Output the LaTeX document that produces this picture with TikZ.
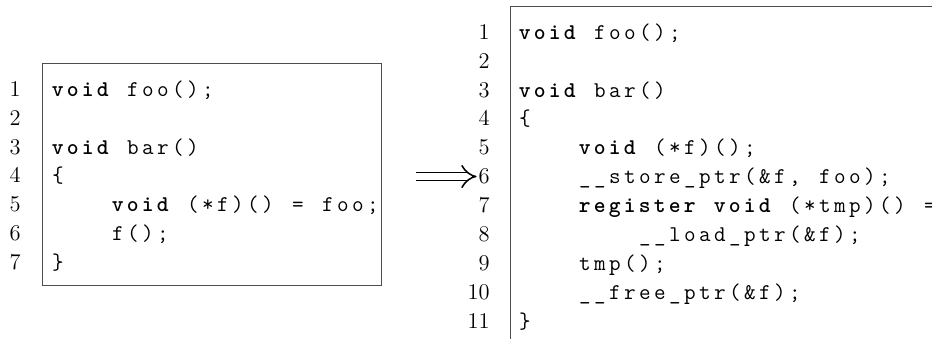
\documentclass[tikz,border=0pt]{standalone}
\usetikzlibrary{arrows.meta}
\makeatletter
\newlength\cellw
\setlength\cellw{9pt}
% one fixed cell per character, like a listing with fixed columns
\newcommand\cl[1]{\@tfor\cchar:=#1\do{\makebox[\cellw][c]{\cchar}}}
\newcommand\ck[1]{{\bfseries\cl{#1}}}
\makeatother
\tikzstyle{lineno} = [anchor=base east, inner sep=0pt, font={\fontsize{13.5}{16}\selectfont\rmfamily}]
\tikzstyle{codeln} = [anchor=base west, inner sep=0pt, font={\fontsize{13.5}{16}\selectfont\ttfamily}]
\tikzstyle{listbox} = [draw=black!70, line width=0.6pt]
\tikzstyle{arrow} = [double, double distance=4pt, line width=0.9pt, -{Implies}, shorten >=1pt]

\begin{document}
\begin{tikzpicture}[x=0.6pt, y=-0.6pt]
            \clip (0,0) rectangle (932,339);
            % original code
            \draw [listbox] (42,64) rectangle (381,286);
            \node [lineno] at (21,96.25) (ln1) {1};
            \node [lineno] at (21,125.15) (ln2) {2};
            \node [lineno] at (21,154.05) (ln3) {3};
            \node [lineno] at (21,182.95) (ln4) {4};
            \node [lineno] at (21,211.85) (ln5) {5};
            \node [lineno] at (21,240.75) (ln6) {6};
            \node [lineno] at (21,269.65) (ln7) {7};
            \node [codeln] at (50,96.25) (lc1) {\ck{void}\cl{~foo();}};
            \node [codeln] at (50,154.05) (lc3) {\ck{void}\cl{~bar()}};
            \node [codeln] at (50,182.95) (lc4) {\cl{\{}};
            \node [codeln] at (50,211.85) (lc5) {\cl{~~~~}\ck{void}\cl{~(*f)()~=~foo;}};
            \node [codeln] at (50,240.75) (lc6) {\cl{~~~~f();}};
            \node [codeln] at (50,269.65) (lc7) {\cl{\}}};
            % transformed code
            \draw [listbox] (960,7) -- (510,7) -- (510,360);
            \node [lineno] at (490,39.25) (rn1) {1};
            \node [lineno] at (490,68.15) (rn2) {2};
            \node [lineno] at (490,97.05) (rn3) {3};
            \node [lineno] at (490,125.95) (rn4) {4};
            \node [lineno] at (490,154.85) (rn5) {5};
            \node [lineno] at (490,183.75) (rn6) {6};
            \node [lineno] at (490,212.65) (rn7) {7};
            \node [lineno] at (490,241.55) (rn8) {8};
            \node [lineno] at (490,270.45) (rn9) {9};
            \node [lineno] at (490,299.35) (rn10) {10};
            \node [lineno] at (490,328.25) (rn11) {11};
            \node [codeln] at (517,39.25) (rc1) {\ck{void}\cl{~foo();}};
            \node [codeln] at (517,97.05) (rc3) {\ck{void}\cl{~bar()}};
            \node [codeln] at (517,125.95) (rc4) {\cl{\{}};
            \node [codeln] at (517,154.85) (rc5) {\cl{~~~~}\ck{void}\cl{~(*f)();}};
            \node [codeln] at (517,183.75) (rc6) {\cl{~~~~\_\_store\_ptr(\&f,~foo);}};
            \node [codeln] at (517,212.65) (rc7) {\cl{~~~~}\ck{register~void}\cl{~(*tmp)()~=}};
            \node [codeln] at (517,241.55) (rc8) {\cl{~~~~~~~~\_\_load\_ptr(\&f);}};
            \node [codeln] at (517,270.45) (rc9) {\cl{~~~~tmp();}};
            \node [codeln] at (517,299.35) (rc10) {\cl{~~~~\_\_free\_ptr(\&f);}};
            \node [codeln] at (517,328.25) (rc11) {\cl{\}}};
            \coordinate (arrtail) at (416,0);
            \draw [arrow] (arrtail |- rn6.west) -- (rn6.west);
\end{tikzpicture}
\end{document}
